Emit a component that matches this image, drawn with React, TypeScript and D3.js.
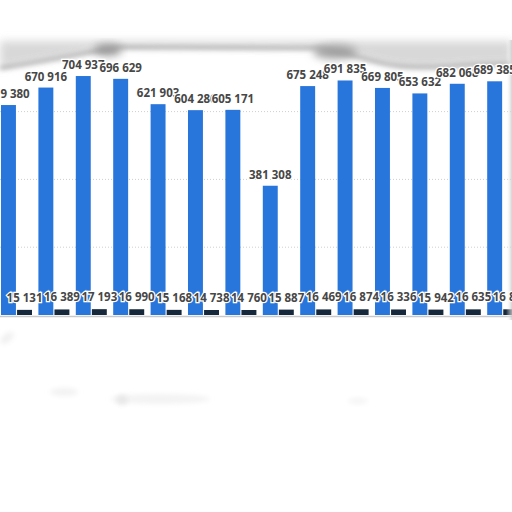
import React from 'react';
import * as d3 from 'd3';

// Values (left part of the label of the first bar is cut off)
const categories = ['g1', 'g2', 'g3', 'g4', 'g5', 'g6', 'g7', 'g8', 'g9', 'g10', 'g11', 'g12', 'g13', 'g14'];
const blueValues = [619380, 670916, 704937, 696629, 621903, 604286, 605171, 381308, 675248, 691835, 669805, 653632, 682068, 689385];
const darkValues = [15131, 16389, 17193, 16990, 15168, 14738, 14760, 15887, 16469, 16874, 16336, 15942, 16635, 16812];
const gridTicks = [200000, 400000, 600000, 800000];

const W = 512;
const H = 512;
const BLUE = '#2876dc';
const DARK = '#16283b';

const fmt = (v: number) => d3.format(',')(v).replace(/,/g, ' ');

const App = () => {
  const x = d3.scaleBand<string>()
    .domain(categories)
    .range([-2.2, 521.4])
    .paddingInner(0.171)
    .paddingOuter(0.0855);

  const xInner = d3.scaleBand<string>()
    .domain(['blue', 'dark'])
    .range([0, x.bandwidth()])
    .paddingInner(0.07);

  const y = d3.scaleLinear().domain([0, 800000]).range([315, 43.8]);

  const labelStyle = {
    fontFamily: '"Open Sans", "DejaVu Sans", sans-serif',
    fontSize: '11.5px',
    fontWeight: 700,
    fill: '#474747',
    stroke: '#fff',
    strokeWidth: 2.5,
    paintOrder: 'stroke',
  } as React.CSSProperties;

  return (
    <svg width={W} height={H} viewBox={`0 0 ${W} ${H}`}
      style={{ position: 'absolute', left: 0, top: 0, background: '#fff' }}>
      <defs>
        <filter id="blur2" x="-20%" y="-50%" width="140%" height="200%">
          <feGaussianBlur stdDeviation="2.5" />
        </filter>
        <filter id="blur4" x="-20%" y="-50%" width="140%" height="200%">
          <feGaussianBlur stdDeviation="4" />
        </filter>
        <linearGradient id="rightShade" x1="0" x2="1" y1="0" y2="0">
          <stop offset="0" stopColor="#fff" stopOpacity="0" />
          <stop offset="1" stopColor="#c8c8c8" stopOpacity="0.8" />
        </linearGradient>
      </defs>

      {/* gridlines */}
      {gridTicks.slice(0, 3).map(t => (
        <line key={t} x1={0} x2={W} y1={y(t)} y2={y(t)}
          stroke="#cfcfcf" strokeWidth={1} strokeDasharray="1,2" />
      ))}

      {/* shadow band at the top */}
      <path d="M0,41 L512,41 L512,64 C470,62 440,70 400,66 C370,63 350,52 320,48 L120,47 C90,52 50,60 0,68 Z"
        fill="#d2d2d2" opacity={0.85} filter="url(#blur4)" />
      <path d="M0,68 C50,60 90,52 120,47 L320,48 C350,52 370,63 400,66 C440,70 470,62 512,64"
        fill="none" stroke="#a0a0a0" strokeWidth={3} filter="url(#blur2)" />
      <line x1={90} x2={512} y1={42} y2={42} stroke="#a0a0a0" strokeWidth={1.5} filter="url(#blur2)" />
      <ellipse cx={108} cy={50} rx={14} ry={6} fill="#999" filter="url(#blur4)" />
      <ellipse cx={335} cy={52} rx={22} ry={7} fill="#a0a0a0" filter="url(#blur4)" />

      {/* bars */}
      {categories.map((c, i) => (
        <g key={c} transform={`translate(${x(c)},0)`}>
          <rect x={xInner('blue')} y={y(blueValues[i])} width={xInner.bandwidth()}
            height={y(0) - y(blueValues[i])} fill={BLUE} />
          <rect x={xInner('dark')} y={y(darkValues[i])} width={xInner.bandwidth()}
            height={y(0) - y(darkValues[i])} fill={DARK} />
        </g>
      ))}

      {/* baseline and shading at the right */}
      <line x1={0} x2={W} y1={316.5} y2={316.5} stroke="#c9c9c9" strokeWidth={1.5} />
      <rect x={506} y={40} width={6} height={280} fill="url(#rightShade)" />

      {/* value labels */}
      {categories.map((c, i) => (
        <g key={`l-${c}`} transform={`translate(${x(c)},0)`} style={labelStyle}>
          <text x={(xInner('blue') as number) + xInner.bandwidth() / 2} y={y(blueValues[i]) - 7}
            textAnchor="middle">{fmt(blueValues[i])}</text>
          <text x={(xInner('dark') as number) + xInner.bandwidth() / 2} y={y(darkValues[i]) - 8}
            textAnchor="middle">{fmt(darkValues[i])}</text>
        </g>
      ))}

      {/* faint blurred remains below the chart */}
      <ellipse cx={64} cy={392} rx={14} ry={4} fill="#f2f2f2" filter="url(#blur2)" />
      <ellipse cx={160} cy={399} rx={50} ry={5} fill="#f3f3f3" filter="url(#blur2)" />
      <ellipse cx={122} cy={400} rx={6} ry={5} fill="#e8e8e8" filter="url(#blur2)" />
      <ellipse cx={358} cy={401} rx={10} ry={3} fill="#f4f4f4" filter="url(#blur2)" />
      <ellipse cx={7} cy={338} rx={8} ry={4} fill="#f0f0f0" filter="url(#blur2)" transform="rotate(-40 7 338)" />
    </svg>
  );
};

export default App;
